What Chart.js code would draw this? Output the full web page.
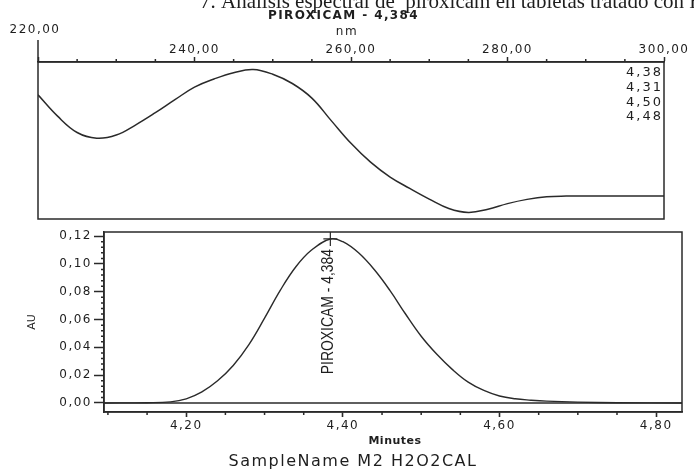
<!DOCTYPE html>
<html>
<head>
<meta charset="utf-8">
<script src="https://cdn.jsdelivr.net/npm/chart.js@4.4.1/dist/chart.umd.min.js"></script>
<style>
html, body { margin: 0; padding: 0; background: #fff; }
#lienzo { position: relative; width: 694px; height: 469px; overflow: hidden; background: #fff; }
#lienzo canvas { position: absolute; left: 0; top: 0; }
</style>
</head>
<body>
<div id="lienzo">
    <canvas id="espectro" width="694" height="469"></canvas>
    <canvas id="cromatograma" width="694" height="469"></canvas>
</div>
<script>
// Espectro UV del pico (nm vs absorbancia relativa)
const longitudesOnda = [220, 222.5, 225, 227.5, 230, 232.5, 235, 237.5, 240, 242.5, 245, 247.5, 250, 252.5, 255, 257.5, 260, 262.5, 265, 267.5, 270, 272.5, 275, 277.5, 280, 282.5, 285, 287.5, 290, 292.5, 295, 297.5, 300];
const absorbEspectro = [0.791, 0.655, 0.551, 0.515, 0.535, 0.600, 0.677, 0.760, 0.840, 0.892, 0.932, 0.952, 0.922, 0.863, 0.770, 0.625, 0.482, 0.362, 0.267, 0.195, 0.127, 0.067, 0.042, 0.062, 0.098, 0.125, 0.142, 0.146, 0.146, 0.146, 0.146, 0.146, 0.146];
const marcasNm = [220, 240, 260, 280, 300];
const marcasMenoresNm = [225, 230, 235, 245, 250, 255, 265, 270, 275, 285, 290, 295];

// Cromatograma (minutos vs AU)
const tiempos = [4.095, 4.15, 4.18, 4.20, 4.22, 4.24, 4.26, 4.28, 4.30, 4.32, 4.34, 4.36, 4.384, 4.40, 4.42, 4.44, 4.46, 4.48, 4.50, 4.52, 4.54, 4.56, 4.58, 4.60, 4.62, 4.64, 4.66, 4.70, 4.75, 4.833];
const valoresAU = [0, 0.0002, 0.0008, 0.003, 0.008, 0.016, 0.027, 0.042, 0.061, 0.081, 0.098, 0.110, 0.118, 0.116, 0.108, 0.096, 0.081, 0.064, 0.048, 0.035, 0.024, 0.015, 0.009, 0.005, 0.003, 0.002, 0.0013, 0.0006, 0.0002, 0];
const marcasMinutos = [4.20, 4.40, 4.60, 4.80];
const marcasMenoresMinutos = [4.10, 4.15, 4.25, 4.30, 4.35, 4.45, 4.50, 4.55, 4.65, 4.70, 4.75];
const marcasAU = [0, 0.02, 0.04, 0.06, 0.08, 0.10, 0.12];
const marcasMenoresAU = [0.004, 0.008, 0.012, 0.016, 0.024, 0.028, 0.032, 0.036, 0.044, 0.048, 0.052, 0.056, 0.064, 0.068, 0.072, 0.076, 0.084, 0.088, 0.092, 0.096, 0.104, 0.108, 0.112, 0.116];

const nombrePico = 'PIROXICAM';
const tiempoPico = 4.384;
const alturaPico = 0.118;
const tiemposRetencion = [4.38, 4.31, 4.50, 4.48];
const tituloFigura = '7. Análisis espectral de  piroxicam en tabletas tratado con H2O2';
const nombreMuestra = 'SampleName M2 H2O2CAL';

const colorLinea = '#2a2a2a', colorTexto = '#1e1e1e';
const fuente = '"DejaVu Sans", sans-serif';
const fmt = (v) => v.toFixed(2).replace('.', ',');
const etiquetaPico = nombrePico + ' - ' + tiempoPico.toFixed(3).replace('.', ',');

function marco(chart) {
    const a = chart.chartArea, ctx = chart.ctx;
    ctx.save();
    ctx.strokeStyle = colorLinea;
    ctx.lineWidth = 1.5;
    ctx.strokeRect(a.left, a.top, a.right - a.left, a.bottom - a.top);
    ctx.restore();
}

function marcasMenores(chart, eje, valores, largo) {
    const s = chart.scales[eje], ctx = chart.ctx;
    ctx.save();
    ctx.strokeStyle = colorLinea;
    ctx.lineWidth = 1.5;
    ctx.beginPath();
    valores.forEach(v => {
        const p = s.getPixelForValue(v);
        if (s.position === 'top') { ctx.moveTo(p, s.bottom); ctx.lineTo(p, s.bottom - largo); }
        else if (s.position === 'bottom') { ctx.moveTo(p, s.top); ctx.lineTo(p, s.top + largo); }
        else { ctx.moveTo(s.right, p); ctx.lineTo(s.right - largo, p); }
    });
    ctx.stroke();
    ctx.restore();
}

const textosEspectro = {
    id: 'textosEspectro',
    beforeDraw(chart) { chart.ctx.letterSpacing = '1.5px'; },
    afterDraw(chart) {
        const ctx = chart.ctx, a = chart.chartArea;
        marco(chart);
        marcasMenores(chart, 'x', marcasMenoresNm, 3);
        ctx.save();
        ctx.strokeStyle = colorLinea;
        ctx.lineWidth = 1.5;
        ctx.beginPath();
        ctx.moveTo(a.left, 40);
        ctx.lineTo(a.left, a.top);
        ctx.stroke();

        ctx.fillStyle = colorTexto;
        ctx.letterSpacing = '0px';
        ctx.font = '21px "Liberation Serif", serif';
        ctx.textAlign = 'left';
        ctx.textBaseline = 'alphabetic';
        ctx.fillText(tituloFigura, 200, 8);

        ctx.letterSpacing = '1.4px';
        ctx.font = 'bold 12px ' + fuente;
        ctx.textBaseline = 'middle';
        ctx.fillText(etiquetaPico, 268, 16);

        ctx.letterSpacing = '1.5px';
        ctx.font = '12px ' + fuente;
        ctx.textAlign = 'center';
        ctx.fillText('nm', 347, 32);
        ctx.fillText(fmt(longitudesOnda[0]), 35, 30);

        ctx.letterSpacing = '2px';
        ctx.font = '13px ' + fuente;
        ctx.textAlign = 'right';
        tiemposRetencion.forEach((t, i) => ctx.fillText(fmt(t), a.right - 1, 73 + i * 14.7));
        ctx.restore();
    }
};

const textosCromatograma = {
    id: 'textosCromatograma',
    beforeDraw(chart) { chart.ctx.letterSpacing = '1.5px'; },
    afterDraw(chart) {
        const ctx = chart.ctx;
        const x = chart.scales.x, y = chart.scales.y;
        marco(chart);
        marcasMenores(chart, 'x', marcasMenoresMinutos, 3);
        marcasMenores(chart, 'y', marcasMenoresAU, 3);
        ctx.save();
        ctx.fillStyle = colorTexto;

        // etiqueta vertical del pico
        ctx.letterSpacing = '0px';
        ctx.save();
        ctx.translate(x.getPixelForValue(tiempoPico) - 2, y.getPixelForValue(alturaPico) + 10);
        ctx.rotate(-Math.PI / 2);
        ctx.scale(0.87, 1);
        ctx.font = '16px "Liberation Sans", sans-serif';
        ctx.textAlign = 'right';
        ctx.textBaseline = 'middle';
        ctx.fillText(etiquetaPico, 0, 0);
        ctx.restore();

        ctx.save();
        ctx.translate(32, 322);
        ctx.rotate(-Math.PI / 2);
        ctx.font = '11px ' + fuente;
        ctx.textAlign = 'center';
        ctx.textBaseline = 'middle';
        ctx.fillText('AU', 0, 0);
        ctx.restore();

        ctx.textAlign = 'center';
        ctx.textBaseline = 'middle';
        ctx.letterSpacing = '0.5px';
        ctx.font = 'bold 11px ' + fuente;
        ctx.fillText('Minutes', 395, 441);

        ctx.letterSpacing = '1.5px';
        ctx.font = '16px ' + fuente;
        ctx.fillText(nombreMuestra, 353, 462);
        ctx.restore();
    }
};

new Chart('espectro', {
    type: 'line',
    data: {
        datasets: [{
            data: longitudesOnda.map((l, i) => ({ x: l, y: absorbEspectro[i] })),
            borderColor: colorLinea,
            borderWidth: 1.5,
            pointRadius: 0,
            tension: 0.4
        }]
    },
    options: {
        responsive: false,
        animation: false,
        events: [],
        layout: { padding: { left: 38, right: 30, top: 0, bottom: 250 } },
        plugins: { legend: { display: false }, tooltip: { enabled: false } },
        scales: {
            x: {
                type: 'linear',
                position: 'top',
                min: 220,
                max: 300,
                afterBuildTicks: (s) => { s.ticks = marcasNm.map(v => ({ value: v })); },
                afterFit: (s) => { s.height = 62; },
                grid: { drawOnChartArea: false, tickLength: 5, tickColor: colorLinea, tickWidth: 1.5 },
                border: { color: colorLinea, width: 1.5 },
                ticks: {
                    autoSkip: false,
                    maxRotation: 0,
                    padding: 0,
                    color: colorTexto,
                    font: { family: fuente, size: 12 },
                    callback: (v) => v !== 220 ? fmt(v) : ''
                }
            },
            y: { display: false, min: 0, max: 1 }
        }
    },
    plugins: [textosEspectro]
});

new Chart('cromatograma', {
    type: 'line',
    data: {
        datasets: [{
            data: [{ x: tiempos[0], y: 0 }, { x: tiempos[tiempos.length - 1], y: 0 }],
            borderColor: colorLinea,
            borderWidth: 1.5,
            pointRadius: 0
        }, {
            data: tiempos.map((t, i) => ({ x: t, y: valoresAU[i] })),
            borderColor: colorLinea,
            borderWidth: 1.4,
            pointRadius: 0,
            tension: 0.4
        }, {
            data: [{ x: tiempoPico, y: alturaPico }],
            borderColor: colorLinea,
            borderWidth: 1.2,
            pointStyle: 'cross',
            pointRadius: 7,
            showLine: false
        }]
    },
    options: {
        responsive: false,
        animation: false,
        events: [],
        layout: { padding: { left: 0, right: 12, top: 232, bottom: 0 } },
        plugins: { legend: { display: false }, tooltip: { enabled: false } },
        scales: {
            x: {
                type: 'linear',
                min: 4.095,
                max: 4.833,
                afterBuildTicks: (s) => { s.ticks = marcasMinutos.map(v => ({ value: v })); },
                afterFit: (s) => { s.height = 57; },
                grid: { drawOnChartArea: false, tickLength: 5, tickColor: colorLinea, tickWidth: 1.6 },
                border: { color: colorLinea, width: 1.5 },
                ticks: {
                    autoSkip: false,
                    maxRotation: 0,
                    padding: 2,
                    color: colorTexto,
                    font: { family: fuente, size: 12 },
                    callback: (v) => fmt(v)
                }
            },
            y: {
                min: -0.0065,
                max: 0.123,
                afterBuildTicks: (s) => { s.ticks = marcasAU.map(v => ({ value: v })); },
                afterFit: (s) => { s.width = 104; },
                grid: { drawOnChartArea: false, tickLength: 10, tickColor: colorLinea, tickWidth: 1.5 },
                border: { color: colorLinea, width: 1.5 },
                ticks: {
                    autoSkip: false,
                    padding: 2,
                    color: colorTexto,
                    font: { family: fuente, size: 12 },
                    callback: (v) => fmt(v)
                }
            }
        }
    },
    plugins: [textosCromatograma]
});
</script>
</body>
</html>
